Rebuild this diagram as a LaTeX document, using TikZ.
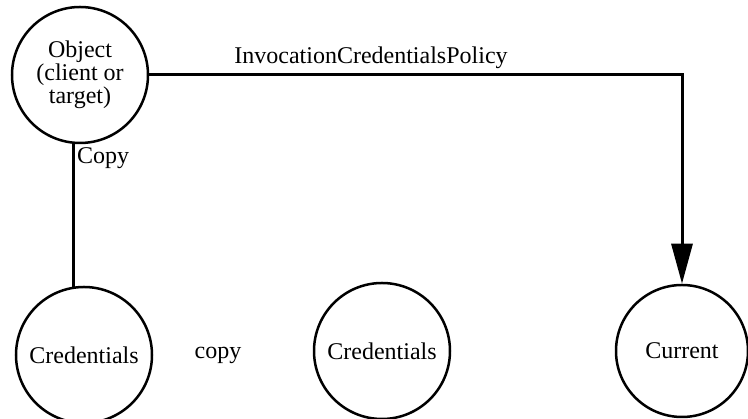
\documentclass[tikz,border=0pt]{standalone}
\usepackage{fontspec}
\setmainfont{Liberation Serif}
\usetikzlibrary{arrows.meta,calc}
\begin{document}
\begin{tikzpicture}[x=1pt,y=1pt,
  every node/.style={font=\fontsize{24}{23}\selectfont},
  state/.style={circle,draw,line width=2.5pt,minimum size=136pt,inner sep=0pt,align=center},
  link/.style={line width=3pt},
  lbl/.style={inner sep=0pt}]
\useasboundingbox (0,0) rectangle (748,419);
\node[state] (obj) at (80,344) {Object\\(client or\\target)};
\node[state] (cred1) at (84,64) {Credentials};
\node[state] (cred2) at (382,68) {Credentials};
\node[state,minimum size=132pt] (cur) at (682,68) {Current};
\draw[link,-{Triangle[length=40pt,width=21pt]}] (obj.east) -| (cur.north);
\draw[link] (obj.-95) -- (obj.-95 |- cred1.100);
\node[lbl,anchor=west] (lcopy) at (77,261) {Copy};
\node[lbl] (lcopy2) at (218,64) {copy};
\node[lbl] (lpol) at (371,361) {InvocationCredentialsPolicy};
\end{tikzpicture}
\end{document}
